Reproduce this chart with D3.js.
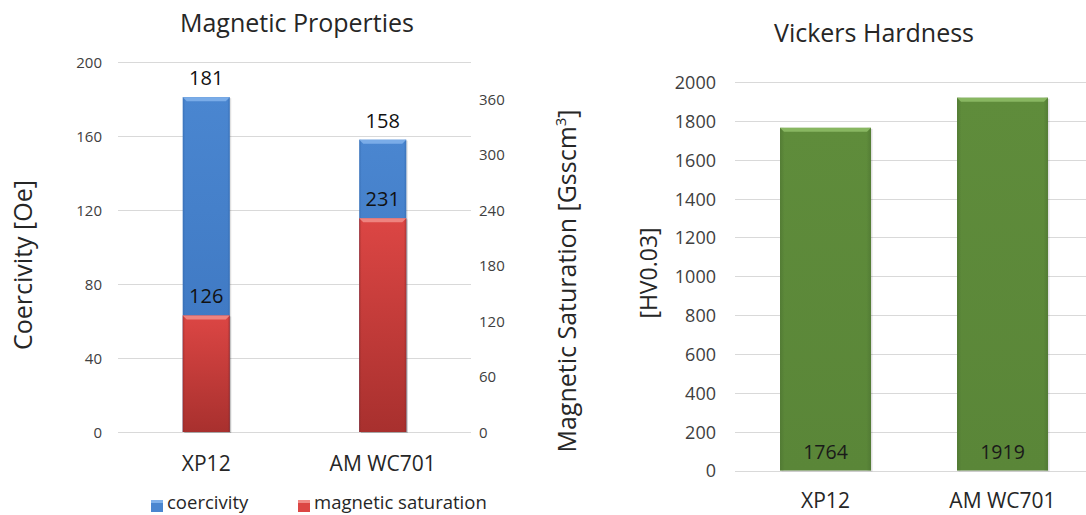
<!DOCTYPE html>
<html>
<head>
<meta charset="utf-8">
<script src="https://cdn.jsdelivr.net/npm/d3@7"></script>
<style>
  html, body { margin: 0; padding: 0; background: #fff; }
  svg { display: block; font-family: "Open Sans", sans-serif; }
</style>
</head>
<body>
<svg id="chart" width="1086" height="515"></svg>
<script>
// ---------- data ----------
const categories = ["XP12", "AM WC701"];
const coercivity = [181, 158];
const magneticSaturation = [126, 231];
const hardness = [1764, 1919];
const coercivityTicks = [0, 40, 80, 120, 160, 200];
const saturationTicks = [0, 60, 120, 180, 240, 300, 360];
const hardnessTicks = [0, 200, 400, 600, 800, 1000, 1200, 1400, 1600, 1800, 2000];
const legendLabels = ["coercivity", "magnetic saturation"];

const svg = d3.select("#chart");
const textColor = "#262626";
const gridColor = "#d9d9d9";

const palettes = {
  blue:  { top: "#4a86d0", bottom: "#3b74be", bevel: "#7fb0ea", side: "#2f64a8" },
  red:   { top: "#dc4644", bottom: "#a8302e", bevel: "#f08a86", side: "#8e2826" },
  green: { top: "#5f8c3b", bottom: "#5a8638", bevel: "#8dbb66", side: "#4a7030" }
};

const defs = svg.append("defs");
Object.entries(palettes).forEach(([k, p]) => {
  const lg = defs.append("linearGradient").attr("id", "grad-" + k)
    .attr("x1", 0).attr("y1", 0).attr("x2", 0).attr("y2", 1);
  lg.append("stop").attr("offset", "0%").attr("stop-color", p.top);
  lg.append("stop").attr("offset", "100%").attr("stop-color", p.bottom);
  const hg = defs.append("linearGradient").attr("id", "side-" + k)
    .attr("x1", 0).attr("y1", 0).attr("x2", 1).attr("y2", 0);
  hg.append("stop").attr("offset", "0%").attr("stop-color", p.side).attr("stop-opacity", 0.55);
  hg.append("stop").attr("offset", "5%").attr("stop-color", p.side).attr("stop-opacity", 0);
  hg.append("stop").attr("offset", "95%").attr("stop-color", p.side).attr("stop-opacity", 0);
  hg.append("stop").attr("offset", "100%").attr("stop-color", p.side).attr("stop-opacity", 0.55);
});

function bevelBar(g, x, w, yTop, yBot, key) {
  const p = palettes[key];
  const h = Math.max(0, yBot - yTop);
  g.append("rect").attr("x", x + 1.5).attr("y", yTop + 1).attr("width", w).attr("height", h)
    .attr("fill", "#000").attr("opacity", 0.12);
  g.append("rect").attr("x", x).attr("y", yTop).attr("width", w).attr("height", h)
    .attr("fill", `url(#grad-${key})`);
  g.append("rect").attr("x", x).attr("y", yTop).attr("width", w).attr("height", h)
    .attr("fill", `url(#side-${key})`);
  const b = 4;
  g.append("polygon")
    .attr("points", [[x, yTop], [x + w, yTop], [x + w - b, yTop + b], [x + b, yTop + b]].map(d => d.join(",")).join(" "))
    .attr("fill", p.bevel).attr("opacity", 0.9);
}

// ---------- Left chart: Magnetic Properties ----------
const L = { left: 118, right: 471, top: 62, bottom: 432 };
const xL = d3.scaleBand().domain(categories).range([L.left, L.right]).paddingInner(0.734).paddingOuter(0.367);
const yL = d3.scaleLinear().domain([0, 200]).range([L.bottom, L.top]);
const yR = d3.scaleLinear().domain([0, 400]).range([L.bottom, L.top]);

const gL = svg.append("g");
gL.append("g").selectAll("line").data(coercivityTicks).join("line")
  .attr("x1", L.left).attr("x2", L.right)
  .attr("y1", d => Math.round(yL(d)) + 0.5).attr("y2", d => Math.round(yL(d)) + 0.5)
  .attr("stroke", gridColor).attr("stroke-width", 1);

const axL = gL.append("g").attr("transform", `translate(${L.left - 16},0)`)
  .call(d3.axisLeft(yL).tickValues(coercivityTicks).tickSize(0).tickPadding(0).tickFormat(d3.format("d")));
axL.select(".domain").remove();
axL.selectAll("text").attr("font-size", 15).attr("fill", "#404040").attr("font-family", "Open Sans").attr("dy", "0.36em");

const axR = gL.append("g").attr("transform", `translate(${L.right + 8},0)`)
  .call(d3.axisRight(yR).tickValues(saturationTicks).tickSize(0).tickPadding(0).tickFormat(d3.format("d")));
axR.select(".domain").remove();
axR.selectAll("text").attr("font-size", 15).attr("fill", "#404040").attr("font-family", "Open Sans").attr("dy", "0.36em");

categories.forEach((c, i) => {
  bevelBar(gL, xL(c), xL.bandwidth(), yL(coercivity[i]), yL(0), "blue");
});
categories.forEach((c, i) => {
  bevelBar(gL, xL(c), xL.bandwidth(), yR(magneticSaturation[i]), yR(0), "red");
});
categories.forEach((c, i) => {
  gL.append("text").attr("x", xL(c) + xL.bandwidth() / 2).attr("y", yL(coercivity[i]) - 12)
    .attr("text-anchor", "middle").attr("font-size", 20).attr("fill", "#111").text(coercivity[i]);
  gL.append("text").attr("x", xL(c) + xL.bandwidth() / 2).attr("y", yR(magneticSaturation[i]) - 12)
    .attr("text-anchor", "middle").attr("font-size", 20).attr("fill", "#111").text(magneticSaturation[i]);
});
gL.append("g").selectAll("text").data(categories).join("text")
  .attr("x", d => xL(d) + xL.bandwidth() / 2).attr("y", 471)
  .attr("text-anchor", "middle").attr("font-size", 21).attr("fill", textColor).text(d => d);

gL.append("text").attr("x", 297).attr("y", 32).attr("text-anchor", "middle")
  .attr("font-size", 25).attr("fill", textColor).text("Magnetic Properties");
gL.append("text").attr("transform", "translate(32,265) rotate(-90)").attr("text-anchor", "middle")
  .attr("font-size", 25).attr("fill", textColor).text("Coercivity [Oe]");
const satTitle = gL.append("text").attr("transform", "translate(576,281) rotate(-90)").attr("text-anchor", "middle")
  .attr("font-size", 25).attr("fill", textColor);
satTitle.append("tspan").text("Magnetic Saturation [Gsscm");
satTitle.append("tspan").attr("font-size", 15).attr("dy", "-0.7em").text("3");
satTitle.append("tspan").attr("dy", "0.42em").text("]");

const legendKeys = ["blue", "red"];
const legendX = [151, 298];
legendLabels.forEach((lab, i) => {
  const lg = gL.append("g");
  lg.append("rect").attr("x", legendX[i]).attr("y", 500).attr("width", 12).attr("height", 12)
    .attr("fill", palettes[legendKeys[i]].top);
  lg.append("rect").attr("x", legendX[i]).attr("y", 500).attr("width", 12).attr("height", 3)
    .attr("fill", palettes[legendKeys[i]].bevel);
  lg.append("text").attr("x", legendX[i] + 16).attr("y", 509).attr("font-size", 18.5)
    .attr("fill", textColor).text(lab);
});

// ---------- Right chart: Vickers Hardness ----------
const R = { left: 737, right: 1091, top: 82, bottom: 470.5 };
const xH = d3.scaleBand().domain(categories).range([R.left, R.right]).paddingInner(0.486).paddingOuter(0.243);
const yH = d3.scaleLinear().domain([0, 2000]).range([R.bottom, R.top]);
const gR = svg.append("g");
gR.append("g").selectAll("line").data(hardnessTicks).join("line")
  .attr("x1", R.left - 2).attr("x2", 1086)
  .attr("y1", d => Math.round(yH(d)) + 0.5).attr("y2", d => Math.round(yH(d)) + 0.5)
  .attr("stroke", gridColor).attr("stroke-width", 1.2);
const axH = gR.append("g").attr("transform", `translate(716,0)`)
  .call(d3.axisLeft(yH).tickValues(hardnessTicks).tickSize(0).tickPadding(0).tickFormat(d3.format("d")));
axH.select(".domain").remove();
axH.selectAll("text").attr("font-size", 18).attr("fill", "#404040").attr("font-family", "Open Sans").attr("dy", "0.36em");

categories.forEach((c, i) => {
  bevelBar(gR, xH(c), xH.bandwidth(), yH(hardness[i]), yH(0), "green");
  gR.append("text").attr("x", xH(c) + xH.bandwidth() / 2).attr("y", yH(0) - 12)
    .attr("text-anchor", "middle").attr("font-size", 19.5).attr("fill", "#1a1a1a").text(hardness[i]);
});
gR.append("g").selectAll("text").data(categories).join("text")
  .attr("x", d => xH(d) + xH.bandwidth() / 2).attr("y", 508)
  .attr("text-anchor", "middle").attr("font-size", 21).attr("fill", textColor).text(d => d);
gR.append("text").attr("x", 874).attr("y", 42).attr("text-anchor", "middle")
  .attr("font-size", 25).attr("fill", textColor).text("Vickers Hardness");
gR.append("text").attr("transform", "translate(657,273) rotate(-90)").attr("text-anchor", "middle")
  .attr("font-size", 23).attr("fill", textColor).text("[HV0.03]");
</script>
</body>
</html>
